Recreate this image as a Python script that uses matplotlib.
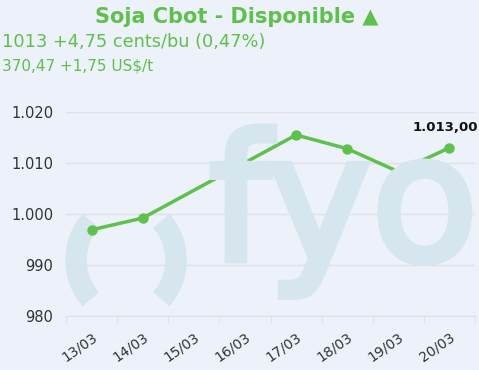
import numpy as np
import matplotlib.pyplot as plt
import matplotlib.patheffects as pe
from matplotlib.patches import Arc
from matplotlib.transforms import Affine2D

# datos
fechas = ["13/03", "14/03", "15/03", "16/03", "17/03", "18/03", "19/03", "20/03"]
precios = [996.9, 999.2, None, None, 1015.5, 1012.8, 1008.3, 1013.0]
yticks = [980, 990, 1000, 1010, 1020]
ytick_labels = ["980", "990", "1.000", "1.010", "1.020"]

titulo = "Soja Cbot - Disponible \u25b2"
linea1 = "1013 +4,75 cents/bu (0,47%)"
linea2 = "370,47 +1,75 US$/t"
etiqueta_final = "1.013,00"

verde = "#5ec14c"
fondo = "#edf1f9"
marca = "#d5e6ef"

W, H = 479, 370
fig = plt.figure(figsize=(W / 100, H / 100), dpi=100, facecolor=fondo)
ax = fig.add_axes([66 / W, 1 - 316 / H, (475 - 66) / W, (316 - 112) / H])
ax.patch.set_alpha(0)

# marca de agua (coordenadas en pixeles, y hacia abajo)
px = Affine2D().scale(1 / W, -1 / H).translate(0, 1) + fig.transFigure
fig.text(209 / W, 1 - 260 / H, "fyo", fontsize=126, color=marca,
         ha="left", va="baseline", zorder=0,
         path_effects=[pe.withStroke(linewidth=5, foreground=marca,
                                     joinstyle="miter", capstyle="butt")])
for a1, a2 in [(132, 228), (-48, 48)]:
    arco = Arc((126, 260), 100, 110, theta1=a1, theta2=a2, lw=15.5,
               color=marca, transform=px, capstyle="butt", zorder=0)
    fig.add_artist(arco)

xs = [i for i, v in enumerate(precios) if v is not None]
ys = [v for v in precios if v is not None]
ax.plot(xs, ys, color=verde, lw=2.5, marker="o", ms=6.5, zorder=3, clip_on=False)
ax.annotate(etiqueta_final, (xs[-1], ys[-1]), xytext=(-3, 10), textcoords="offset points",
            ha="center", va="bottom", fontsize=9.5, fontweight="bold", color="#111111")

ax.set_xlim(-0.5, len(fechas) - 0.5)
ax.set_ylim(980, 1020)
ax.set_yticks(yticks)
ax.set_yticklabels(ytick_labels)
ax.grid(axis="y", color="#dfe1e5", lw=1)
ax.set_axisbelow(True)

ax.set_xticks(np.arange(len(fechas)))
ax.set_xticklabels(fechas, rotation=35, ha="right", va="top", rotation_mode="anchor")
ax.set_xticks(np.arange(len(fechas) + 1) - 0.5, minor=True)
ax.tick_params(axis="x", which="major", length=0, pad=10, labelsize=10, labelcolor="#333333")
ax.tick_params(axis="x", which="minor", length=5, color="#dcdfe3")
ax.tick_params(axis="y", length=0, pad=9, labelsize=10.5, labelcolor="#333333")

for s in ["top", "right", "left"]:
    ax.spines[s].set_visible(False)
ax.spines["bottom"].set_color("#dcdfe3")

fig.text(237 / W, 1 - 17 / H, titulo, fontsize=15, fontweight="bold", color=verde,
         ha="center", va="center")
fig.text(2 / W, 1 - 42 / H, linea1, fontsize=12.8, color=verde, ha="left", va="center")
fig.text(2 / W, 1 - 66 / H, linea2, fontsize=11, color=verde, ha="left", va="center")

fig.savefig("out.png", dpi=100, facecolor=fondo)
